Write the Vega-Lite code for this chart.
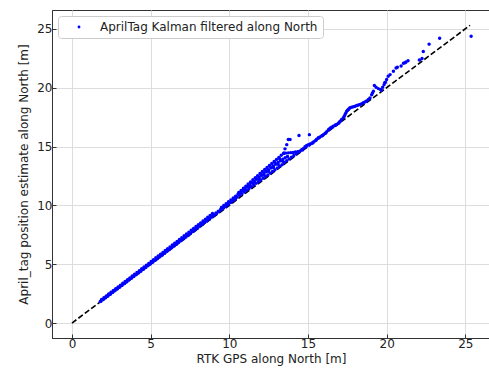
{
  "$schema": "https://vega.github.io/schema/vega-lite/v6.json",
  "width": 438,
  "height": 328,
  "autosize": {"type": "none"},
  "padding": {"left": 52, "top": 10, "right": 0, "bottom": 36},
  "background": "white",
  "config": {
    "font": "DejaVu Sans",
    "view": {"stroke": "#333333", "strokeWidth": 1},
    "axis": {
      "labelFont": "DejaVu Sans",
      "labelFontSize": 12,
      "labelColor": "#222222",
      "titleFont": "DejaVu Sans",
      "titleFontSize": 12,
      "titleFontWeight": "normal",
      "titleColor": "#222222",
      "domainColor": "#333333",
      "domainWidth": 1,
      "tickColor": "#333333",
      "tickSize": -4,
      "tickWidth": 1,
      "gridColor": "#dddddd",
      "gridWidth": 1,
      "labelPadding": 4
    },
    "legend": {
      "orient": "top-left",
      "offset": 6,
      "padding": 5,
      "strokeColor": "#cccccc",
      "fillColor": "white",
      "cornerRadius": 3,
      "labelFont": "DejaVu Sans",
      "labelFontSize": 12,
      "labelColor": "#222222",
      "labelLimit": 0,
      "symbolOffset": 10,
      "labelOffset": 15,
      "symbolSize": 8,
      "symbolType": "circle",
      "symbolStrokeWidth": 0
    }
  },
  "layer": [
    {
      "data": {"values": [{"rtk": 0, "est": 0}, {"rtk": 25.3, "est": 25.3}]},
      "mark": {"type": "line", "color": "black", "strokeWidth": 1.6, "strokeDash": [5.5, 2.5]},
      "encoding": {
        "x": {"field": "rtk", "type": "quantitative"},
        "y": {"field": "est", "type": "quantitative"}
      }
    },
    {
      "data": {"values": [
        {"rtk":1.80,"est":1.84},{"rtk":1.95,"est":1.99},{"rtk":2.10,"est":2.15},{"rtk":2.25,"est":2.29},{"rtk":2.40,"est":2.45},{"rtk":2.55,"est":2.59},{"rtk":2.70,"est":2.75},{"rtk":2.85,"est":2.90},{"rtk":3.00,"est":3.04},{"rtk":3.15,"est":3.20},{"rtk":3.30,"est":3.35},{"rtk":3.45,"est":3.49},{"rtk":3.60,"est":3.66},{"rtk":3.75,"est":3.80},{"rtk":3.90,"est":3.95},{"rtk":4.05,"est":4.11},{"rtk":4.20,"est":4.25},{"rtk":4.35,"est":4.41},{"rtk":4.50,"est":4.56},{"rtk":4.65,"est":4.71},{"rtk":4.80,"est":4.86},{"rtk":4.95,"est":5.01},{"rtk":5.10,"est":5.17},{"rtk":5.25,"est":5.32},{"rtk":5.40,"est":5.46},{"rtk":5.55,"est":5.63},{"rtk":5.70,"est":5.77},{"rtk":5.85,"est":5.93},{"rtk":6.00,"est":6.08},{"rtk":6.15,"est":6.23},{"rtk":6.30,"est":6.39},{"rtk":6.45,"est":6.54},{"rtk":6.60,"est":6.70},{"rtk":6.75,"est":6.85},{"rtk":6.90,"est":7.00},{"rtk":7.05,"est":7.16},{"rtk":7.20,"est":7.31},{"rtk":7.35,"est":7.47},{"rtk":7.50,"est":7.62},{"rtk":7.65,"est":7.78},{"rtk":7.80,"est":7.93},{"rtk":7.95,"est":8.09},{"rtk":8.10,"est":8.25},{"rtk":8.25,"est":8.41},{"rtk":8.40,"est":8.57},{"rtk":8.55,"est":8.72},{"rtk":8.70,"est":8.88},{"rtk":8.85,"est":9.04},{"rtk":9.00,"est":9.20},
        {"rtk":1.88,"est":2.00},{"rtk":2.03,"est":2.15},{"rtk":2.18,"est":2.30},{"rtk":2.33,"est":2.46},{"rtk":2.48,"est":2.61},{"rtk":2.63,"est":2.76},{"rtk":2.78,"est":2.92},{"rtk":2.93,"est":3.07},{"rtk":3.08,"est":3.22},{"rtk":3.23,"est":3.38},{"rtk":3.38,"est":3.53},{"rtk":3.53,"est":3.68},{"rtk":3.68,"est":3.84},{"rtk":3.83,"est":3.99},{"rtk":3.98,"est":4.15},{"rtk":4.13,"est":4.30},{"rtk":4.28,"est":4.45},{"rtk":4.43,"est":4.61},{"rtk":4.58,"est":4.76},{"rtk":4.73,"est":4.92},{"rtk":4.88,"est":5.07},{"rtk":5.03,"est":5.23},{"rtk":5.18,"est":5.38},{"rtk":5.33,"est":5.54},{"rtk":5.48,"est":5.69},{"rtk":5.63,"est":5.85},{"rtk":5.78,"est":6.00},{"rtk":5.93,"est":6.16},{"rtk":6.08,"est":6.31},{"rtk":6.23,"est":6.47},{"rtk":6.38,"est":6.63},{"rtk":6.53,"est":6.78},{"rtk":6.68,"est":6.94},{"rtk":6.83,"est":7.10},{"rtk":6.98,"est":7.25},{"rtk":7.13,"est":7.41},{"rtk":7.28,"est":7.57},{"rtk":7.43,"est":7.72},{"rtk":7.58,"est":7.88},{"rtk":7.73,"est":8.04},{"rtk":7.88,"est":8.20},{"rtk":8.03,"est":8.36},{"rtk":8.18,"est":8.51},{"rtk":8.33,"est":8.67},{"rtk":8.48,"est":8.83},{"rtk":8.63,"est":8.99},{"rtk":8.78,"est":9.15},{"rtk":8.93,"est":9.31},
        {"rtk":1.84,"est":1.85},{"rtk":1.99,"est":2.00},{"rtk":2.14,"est":2.15},{"rtk":2.29,"est":2.30},{"rtk":2.44,"est":2.45},{"rtk":2.59,"est":2.61},{"rtk":2.74,"est":2.76},{"rtk":2.89,"est":2.91},{"rtk":3.04,"est":3.06},{"rtk":3.19,"est":3.21},{"rtk":3.34,"est":3.36},{"rtk":3.49,"est":3.52},{"rtk":3.64,"est":3.67},{"rtk":3.79,"est":3.82},{"rtk":3.94,"est":3.97},{"rtk":4.09,"est":4.12},{"rtk":4.24,"est":4.27},{"rtk":4.39,"est":4.42},{"rtk":4.54,"est":4.58},{"rtk":4.69,"est":4.73},{"rtk":4.84,"est":4.88},{"rtk":4.99,"est":5.03},{"rtk":5.14,"est":5.18},{"rtk":5.29,"est":5.33},{"rtk":5.44,"est":5.49},{"rtk":5.59,"est":5.64},{"rtk":5.74,"est":5.79},{"rtk":5.89,"est":5.94},{"rtk":6.04,"est":6.10},{"rtk":6.19,"est":6.25},{"rtk":6.34,"est":6.40},{"rtk":6.49,"est":6.55},{"rtk":6.64,"est":6.70},{"rtk":6.79,"est":6.86},{"rtk":6.94,"est":7.01},{"rtk":7.09,"est":7.16},{"rtk":7.24,"est":7.32},{"rtk":7.39,"est":7.47},{"rtk":7.54,"est":7.62},{"rtk":7.69,"est":7.78},{"rtk":7.84,"est":7.93},{"rtk":7.99,"est":8.08},{"rtk":8.14,"est":8.24},{"rtk":8.29,"est":8.39},{"rtk":8.44,"est":8.54},{"rtk":8.59,"est":8.70},{"rtk":8.74,"est":8.85},{"rtk":8.89,"est":9.00},{"rtk":9.04,"est":9.15},{"rtk":9.19,"est":9.31},{"rtk":9.34,"est":9.46},{"rtk":9.49,"est":9.62},{"rtk":9.64,"est":9.77},{"rtk":9.79,"est":9.93},{"rtk":9.94,"est":10.08},{"rtk":10.09,"est":10.24},{"rtk":10.24,"est":10.40},{"rtk":10.39,"est":10.55},
        {"rtk":9.15,"est":9.35},{"rtk":9.30,"est":9.50},{"rtk":9.45,"est":9.66},{"rtk":9.60,"est":9.80},{"rtk":9.75,"est":9.95},{"rtk":9.90,"est":10.11},{"rtk":10.05,"est":10.26},{"rtk":10.20,"est":10.40},{"rtk":10.35,"est":10.55},{"rtk":10.50,"est":10.70},{"rtk":10.65,"est":10.85},{"rtk":10.80,"est":10.99},{"rtk":10.95,"est":11.14},{"rtk":11.10,"est":11.29},{"rtk":11.25,"est":11.43},{"rtk":11.40,"est":11.58},{"rtk":11.55,"est":11.72},{"rtk":11.70,"est":11.87},{"rtk":11.85,"est":12.01},{"rtk":12.00,"est":12.16},{"rtk":12.15,"est":12.30},{"rtk":12.30,"est":12.45},{"rtk":12.45,"est":12.59},{"rtk":12.60,"est":12.74},{"rtk":12.75,"est":12.88},{"rtk":12.90,"est":13.03},{"rtk":13.05,"est":13.17},{"rtk":13.20,"est":13.32},{"rtk":13.35,"est":13.46},{"rtk":13.50,"est":13.64},{"rtk":13.65,"est":13.80},{"rtk":13.80,"est":13.94},{"rtk":13.95,"est":14.08},{"rtk":14.10,"est":14.24},{"rtk":14.25,"est":14.39},{"rtk":14.40,"est":14.53},
        {"rtk":9.50,"est":9.82},{"rtk":9.65,"est":9.98},{"rtk":9.80,"est":10.14},{"rtk":9.95,"est":10.30},{"rtk":10.10,"est":10.46},{"rtk":10.25,"est":10.62},{"rtk":10.40,"est":10.78},{"rtk":10.55,"est":10.94},{"rtk":10.70,"est":11.10},{"rtk":10.85,"est":11.26},{"rtk":11.00,"est":11.42},{"rtk":11.15,"est":11.58},{"rtk":11.30,"est":11.74},{"rtk":11.45,"est":11.90},{"rtk":11.60,"est":12.06},{"rtk":11.75,"est":12.22},{"rtk":11.90,"est":12.38},{"rtk":12.05,"est":12.54},{"rtk":12.20,"est":12.70},{"rtk":12.35,"est":12.86},{"rtk":12.50,"est":13.02},{"rtk":12.65,"est":13.18},{"rtk":12.80,"est":13.34},{"rtk":12.95,"est":13.49},{"rtk":13.10,"est":13.64},{"rtk":13.25,"est":13.79},{"rtk":13.40,"est":13.92},{"rtk":13.55,"est":14.05},{"rtk":13.70,"est":14.15},
        {"rtk":10.60,"est":11.10},{"rtk":10.75,"est":11.27},{"rtk":10.90,"est":11.45},{"rtk":11.05,"est":11.63},{"rtk":11.20,"est":11.81},{"rtk":11.35,"est":11.99},{"rtk":11.50,"est":12.17},{"rtk":11.65,"est":12.34},{"rtk":11.80,"est":12.52},{"rtk":11.95,"est":12.70},{"rtk":12.10,"est":12.88},{"rtk":12.25,"est":13.05},{"rtk":12.40,"est":13.22},{"rtk":12.55,"est":13.39},{"rtk":12.70,"est":13.56},{"rtk":12.85,"est":13.73},{"rtk":13.00,"est":13.90},{"rtk":13.15,"est":14.07},{"rtk":13.30,"est":14.25},{"rtk":13.45,"est":14.40},{"rtk":13.60,"est":14.44},{"rtk":13.75,"est":14.46},{"rtk":13.90,"est":14.48},{"rtk":14.05,"est":14.50},{"rtk":14.20,"est":14.53},{"rtk":14.35,"est":14.56},{"rtk":14.50,"est":14.62},
        {"rtk":11.00,"est":11.30},{"rtk":11.30,"est":11.60},{"rtk":11.60,"est":11.93},{"rtk":11.90,"est":12.25},{"rtk":12.20,"est":12.58},{"rtk":12.50,"est":12.90},{"rtk":12.80,"est":13.22},{"rtk":13.10,"est":13.50},{"rtk":13.40,"est":13.75},
        {"rtk":11.10,"est":11.60},{"rtk":11.40,"est":11.94},{"rtk":11.70,"est":12.28},{"rtk":12.00,"est":12.63},{"rtk":12.30,"est":12.97},{"rtk":12.60,"est":13.31},{"rtk":12.90,"est":13.63},{"rtk":13.20,"est":13.96},
        {"rtk":13.48,"est":14.45},{"rtk":13.54,"est":14.80},{"rtk":13.65,"est":15.16},{"rtk":13.75,"est":15.59},{"rtk":13.86,"est":15.59},{"rtk":14.43,"est":15.93},{"rtk":15.09,"est":16.01},
        {"rtk":14.60,"est":14.72},{"rtk":14.70,"est":14.82},{"rtk":14.81,"est":14.98},{"rtk":14.92,"est":15.08},{"rtk":15.03,"est":15.16},{"rtk":15.14,"est":15.22},{"rtk":15.24,"est":15.28},{"rtk":15.35,"est":15.38},{"rtk":15.45,"est":15.48},{"rtk":15.55,"est":15.62},{"rtk":15.66,"est":15.74},{"rtk":15.76,"est":15.82},{"rtk":15.87,"est":15.90},{"rtk":15.98,"est":16.00},{"rtk":16.08,"est":16.10},{"rtk":16.19,"est":16.25},{"rtk":16.30,"est":16.42},{"rtk":16.40,"est":16.56},{"rtk":16.50,"est":16.64},{"rtk":16.61,"est":16.72},{"rtk":16.72,"est":16.80},{"rtk":16.83,"est":16.88},{"rtk":16.93,"est":16.98},{"rtk":17.04,"est":17.15},{"rtk":17.14,"est":17.30},{"rtk":17.25,"est":17.45},{"rtk":17.31,"est":17.58},{"rtk":17.36,"est":17.72},{"rtk":17.41,"est":17.86},{"rtk":17.46,"est":18.00},{"rtk":17.52,"est":18.08},{"rtk":17.57,"est":18.15},{"rtk":17.62,"est":18.22},{"rtk":17.67,"est":18.30},{"rtk":17.78,"est":18.34},{"rtk":17.89,"est":18.38},{"rtk":18.00,"est":18.43},{"rtk":18.10,"est":18.48},{"rtk":18.21,"est":18.52},{"rtk":18.31,"est":18.58},{"rtk":18.42,"est":18.64},{"rtk":18.52,"est":18.71},{"rtk":18.62,"est":18.78},{"rtk":18.73,"est":18.86},{"rtk":18.84,"est":19.00},{"rtk":18.94,"est":19.13},{"rtk":19.05,"est":19.40},{"rtk":19.10,"est":19.55},{"rtk":19.16,"est":19.70},
        {"rtk":14.65,"est":14.70},{"rtk":14.87,"est":14.95},{"rtk":15.08,"est":15.13},{"rtk":15.30,"est":15.30},{"rtk":15.50,"est":15.52},{"rtk":15.71,"est":15.75},{"rtk":15.92,"est":15.93},{"rtk":16.13,"est":16.15},{"rtk":16.35,"est":16.45},{"rtk":16.56,"est":16.64},{"rtk":16.77,"est":16.82},{"rtk":16.98,"est":17.02},
        {"rtk":19.22,"est":20.18},{"rtk":19.33,"est":20.04},{"rtk":19.47,"est":19.92},{"rtk":19.62,"est":19.84},{"rtk":19.75,"est":20.04},{"rtk":19.88,"est":20.41},
        {"rtk":19.66,"est":19.78},{"rtk":19.84,"est":20.26},{"rtk":19.92,"est":20.46},{"rtk":20.00,"est":20.69},{"rtk":20.10,"est":20.97},{"rtk":20.22,"est":21.11},{"rtk":20.43,"est":21.39},{"rtk":20.60,"est":21.68},{"rtk":20.68,"est":21.73},{"rtk":20.92,"est":21.85},{"rtk":21.07,"est":22.08},{"rtk":21.17,"est":22.12},{"rtk":21.23,"est":22.18},{"rtk":21.36,"est":22.28},{"rtk":22.08,"est":22.36},{"rtk":22.25,"est":22.47},{"rtk":22.33,"est":23.07},{"rtk":22.70,"est":23.70},{"rtk":23.37,"est":24.20},{"rtk":25.37,"est":24.37}
      ]},
      "mark": {"type": "point", "filled": true, "shape": "circle", "size": 12, "opacity": 1},
      "encoding": {
        "x": {
          "field": "rtk", "type": "quantitative",
          "scale": {"domain": [-1.27, 26.57], "nice": false, "zero": false},
          "axis": {"values": [0, 5, 10, 15, 20, 25], "title": "RTK GPS along North [m]", "titlePadding": 4}
        },
        "y": {
          "field": "est", "type": "quantitative",
          "scale": {"domain": [-1.27, 26.6], "nice": false, "zero": false},
          "axis": {"values": [0, 5, 10, 15, 20, 25], "title": "April_tag position estimate along North [m]", "titlePadding": 6}
        },
        "color": {
          "datum": "AprilTag Kalman filtered along North",
          "scale": {"range": ["#0000ff"]},
          "legend": {"title": null}
        }
      }
    }
  ]
}
